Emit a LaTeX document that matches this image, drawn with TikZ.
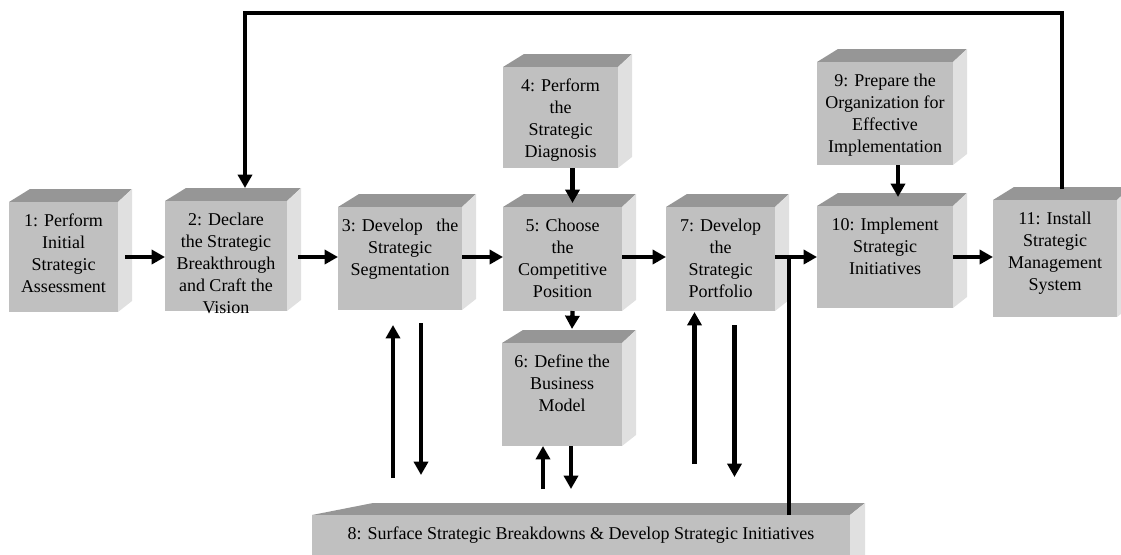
\documentclass[tikz,border=0pt]{standalone}
\usepackage{fontspec}
\setmainfont{Liberation Serif}
\usetikzlibrary{arrows.meta,calc}

\tikzset{
  front/.style={fill={rgb,255:red,192;green,192;blue,192}, inner sep=0pt, outer sep=0pt, anchor=north west},
  topface/.style={fill={rgb,255:red,150;green,150;blue,150}},
  sideface/.style={fill={rgb,255:red,224;green,224;blue,224}},
  boxtext/.style={anchor=north, inner sep=0pt, align=center, font=\fontsize{13.5}{16.5}\selectfont},
  flow/.style={line width=3.2pt, -{Triangle[length=10pt,width=10.5pt]}},
  plain/.style={line width=3.2pt}
}

% front face is a named node, top and side faces sit on it
\newcommand{\cubebox}[6]{%
  \fill[topface] (#2,#3) -- (#2+21,#3-13) -- (#4+14,#3-13) -- (#4,#3) -- cycle;
  \fill[sideface] (#4,#3) -- (#4+14,#3-13) -- (#4+14,#5-11) -- (#4,#5) -- cycle;
  \node[front, minimum width={(#4-#2)*0.75pt}, minimum height={(#5-#3)*0.75pt}] (#1) at (#2,#3) {};
  \node[boxtext] (#1txt) at ($(#1.north)+(0,12)$) {#6};
}

\begin{document}
\begin{tikzpicture}[x=0.75pt,y=0.75pt,yscale=-1,xscale=1]
    \useasboundingbox (0,0) rectangle (1121,554);
    \clip (0,0) rectangle (1121,554);

    %Shape: Boxes of the main row
    \cubebox{b1}{9}{202}{118}{312}{1: Perform\\Initial\\Strategic\\Assessment}
    \cubebox{b2}{165}{201}{287}{311}{2: Declare\\the Strategic\\Breakthrough\\and Craft the\\Vision}
    \cubebox{b3}{338}{207}{462}{310}{3: Develop\ \ \ the\\Strategic\\Segmentation}
    \cubebox{b5}{503}{207}{622}{311}{5: Choose\\the\\Competitive\\Position}
    \cubebox{b7}{666}{207}{775}{311}{7: Develop\\the\\Strategic\\Portfolio}
    \cubebox{b10}{817}{206}{953}{308}{10: Implement\\Strategic\\Initiatives}
    \cubebox{b11}{993}{200}{1117}{317}{11: Install\\Strategic\\Management\\System}

    %Shape: Boxes above and below
    \cubebox{b4}{503}{67}{618}{168}{4: Perform\\the\\Strategic\\Diagnosis}
    \cubebox{b9}{817}{62}{953}{165}{9: Prepare the\\Organization for\\Effective\\Implementation}
    \cubebox{b6}{502}{343}{622}{446}{6: Define the\\Business\\Model}

    %Shape: Long box 8
    \fill[topface] (312,515) -- (373,503) -- (865,503) -- (850,515) -- cycle;
    \fill[sideface] (850,515) -- (865,503) -- (865,560) -- (850,560) -- cycle;
    \node[front, minimum width={538*0.75pt}, minimum height={41*0.75pt}] (b8) at (312,515) {};
    \node[boxtext, anchor=center] (b8txt) at (b8.center) {8: Surface Strategic Breakdowns \& Develop Strategic Initiatives};

    % main row arrows, all on one level
    \coordinate (row) at (0,257);
    \draw[flow] ($(b1.east |- row)+(7,0)$) -- (b2.west |- row);
    \draw[flow] ($(b2.east |- row)+(11,0)$) -- (b3.west |- row);
    \draw[flow] (b3.east |- row) -- (b5.west |- row);
    \draw[flow] (b5.east |- row) -- (b7.west |- row);
    \draw[flow] (b7.east |- row) -- (b10.west |- row);
    \draw[flow] (b10.east |- row) -- (b11.west |- row);

    % line up from box 8
    \coordinate (jn) at ($(b7.east |- row)+(14,0)$);
    \draw[plain] (jn |- b8.north) -- (jn);

    % vertical arrows
    \draw[flow] ($(b4.south)+(12,0)$) -- ($(b5.north)+(10,-4)$);
    \draw[flow] ($(b5.south)+(10,0)$) -- ($(b6.north)+(10,-14)$);
    \draw[flow] ($(b9.south)+(13,0)$) -- ($(b10.north)+(13,-9)$);

    % arrows between 3, 6, 7 and box 8
    \draw[flow] ($(b3.south)+(-7,168)$) -- ($(b3.south)+(-7,15)$);
    \draw[flow] ($(b3.south)+(21,13)$) -- ($(b3.south)+(21,165)$);
    \draw[flow] ($(b6.south)+(-19,43)$) -- ($(b6.south)+(-19,0)$);
    \draw[flow] ($(b6.south)+(9,0)$) -- ($(b6.south)+(9,43)$);
    \draw[flow] ($(b7.south)+(-26,153)$) -- ($(b7.south)+(-26,1)$);
    \draw[flow] ($(b7.south)+(14,14)$) -- ($(b7.south)+(14,166)$);

    % feedback loop from 11 back to 2
    \coordinate (fbR) at ($(b11.north)+(7,-11)$);
    \coordinate (fbL) at ($(b2.north)+(19,-13)$);
    \coordinate (fbT) at (0,13);
    \draw[flow] (fbR) -- (fbR |- fbT) -- (fbL |- fbT) -- (fbL);

\end{tikzpicture}
\end{document}
